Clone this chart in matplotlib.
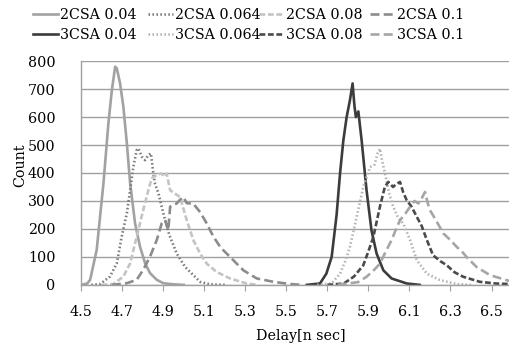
import matplotlib
matplotlib.use('Agg')
import matplotlib.pyplot as plt
from matplotlib.ticker import MultipleLocator

# delay [n sec] / count
x_2csa_004 = [4.50, 4.53, 4.544, 4.576, 4.609, 4.633, 4.65, 4.666, 4.674, 4.69, 4.706, 4.723, 4.739, 4.763, 4.787, 4.812, 4.836, 4.869, 4.901, 4.95, 5.0]
y_2csa_004 = [0, 5, 18, 125, 363, 577, 696, 780, 774, 720, 637, 506, 363, 220, 137, 77, 42, 18, 6, 2, 0]

x_2csa_0064 = [4.55, 4.593, 4.641, 4.674, 4.698, 4.723, 4.739, 4.755, 4.771, 4.779, 4.796, 4.812, 4.828, 4.84, 4.852, 4.86, 4.877, 4.901, 4.925, 4.934, 4.966, 5.007, 5.047, 5.08, 5.128, 5.2]
y_2csa_0064 = [0, 3, 30, 77, 173, 256, 339, 423, 482, 488, 458, 446, 464, 470, 399, 362, 327, 255, 190, 171, 112, 64, 35, 11, 2, 0]

x_2csa_008 = [4.60, 4.658, 4.706, 4.739, 4.771, 4.803, 4.828, 4.844, 4.869, 4.89, 4.909, 4.917, 4.934, 4.982, 5.015, 5.047, 5.08, 5.112, 5.161, 5.226, 5.307, 5.36]
y_2csa_008 = [0, 3, 30, 77, 173, 268, 339, 381, 393, 398, 387, 398, 338, 314, 231, 160, 112, 76, 46, 23, 5, 0]

x_2csa_01 = [4.65, 4.723, 4.771, 4.803, 4.836, 4.869, 4.893, 4.909, 4.925, 4.934, 4.966, 4.982, 4.998, 5.015, 5.047, 5.08, 5.112, 5.144, 5.177, 5.193, 5.242, 5.291, 5.356, 5.437, 5.518, 5.58]
y_2csa_01 = [0, 6, 18, 54, 101, 161, 220, 232, 196, 280, 291, 304, 314, 292, 290, 260, 220, 173, 137, 124, 88, 52, 23, 11, 3, 0]

x_3csa_004 = [5.60, 5.664, 5.695, 5.721, 5.745, 5.762, 5.778, 5.794, 5.81, 5.823, 5.832, 5.839, 5.851, 5.867, 5.891, 5.915, 5.94, 5.973, 6.013, 6.087, 6.15]
y_3csa_004 = [0, 5, 40, 100, 250, 400, 517, 600, 660, 720, 640, 600, 620, 517, 338, 195, 112, 52, 23, 5, 0]

x_3csa_0064 = [5.65, 5.72, 5.762, 5.79, 5.81, 5.843, 5.875, 5.908, 5.93, 5.945, 5.956, 5.965, 5.981, 6.0, 6.021, 6.045, 6.07, 6.103, 6.136, 6.185, 6.249, 6.33, 6.40]
y_3csa_0064 = [0, 5, 40, 90, 136, 243, 350, 421, 430, 470, 487, 450, 398, 330, 279, 240, 219, 160, 88, 40, 17, 3, 0]

x_3csa_008 = [5.70, 5.78, 5.83, 5.875, 5.90, 5.924, 5.956, 5.98, 5.997, 6.02, 6.035, 6.054, 6.07, 6.087, 6.11, 6.136, 6.16, 6.185, 6.215, 6.25, 6.282, 6.32, 6.362, 6.443, 6.52, 6.59]
y_3csa_008 = [0, 5, 30, 70, 120, 171, 279, 350, 368, 350, 360, 368, 330, 302, 280, 243, 210, 160, 106, 85, 70, 45, 29, 11, 5, 3]

x_3csa_01 = [5.75, 5.85, 5.891, 5.93, 5.956, 5.985, 6.013, 6.035, 6.054, 6.08, 6.103, 6.125, 6.144, 6.16, 6.176, 6.19, 6.2, 6.23, 6.265, 6.30, 6.33, 6.355, 6.378, 6.427, 6.492, 6.573, 6.6]
y_3csa_01 = [0, 10, 29, 55, 76, 120, 160, 200, 231, 255, 279, 300, 291, 310, 332, 290, 267, 230, 184, 160, 136, 120, 100, 64, 35, 17, 12]

x_ticks = [4.5, 4.7, 4.9, 5.1, 5.3, 5.5, 5.7, 5.9, 6.1, 6.3, 6.5]

plt.rcParams['font.family'] = ['DejaVu Serif']
plt.rcParams['font.size'] = 10.3

fig = plt.figure(figsize=(5.10, 3.47), dpi=100)
ax = fig.add_axes([0.159, 0.179, 0.841, 0.645])

lw = 1.9
dot = (0, (0.6, 0.9))
dash = (0, (2.2, 1.0))
ldash = (0, (3.4, 1.6))
h1, = ax.plot(x_2csa_004, y_2csa_004, color='#a2a2a2', lw=lw, ls='-', label='2CSA 0.04')
h2, = ax.plot(x_2csa_0064, y_2csa_0064, color='#7c7c7c', lw=lw, ls=dot, label='2CSA 0.064')
h3, = ax.plot(x_2csa_008, y_2csa_008, color='#c4c4c4', lw=lw, ls=dash, label='2CSA 0.08')
h4, = ax.plot(x_2csa_01, y_2csa_01, color='#8c8c8c', lw=lw, ls=ldash, label='2CSA 0.1')
h5, = ax.plot(x_3csa_004, y_3csa_004, color='#3c3c3c', lw=lw, ls='-', label='3CSA 0.04')
h6, = ax.plot(x_3csa_0064, y_3csa_0064, color='#b4b4b4', lw=lw, ls=dot, label='3CSA 0.064')
h7, = ax.plot(x_3csa_008, y_3csa_008, color='#4a4a4a', lw=lw, ls=dash, label='3CSA 0.08')
h8, = ax.plot(x_3csa_01, y_3csa_01, color='#a6a6a6', lw=lw, ls=ldash, label='3CSA 0.1')

ax.set_xlim(4.5, 6.59)
ax.set_ylim(0, 800)
ax.set_xticks(x_ticks)
ax.set_xticklabels([f'{t:.1f}' for t in x_ticks])
ax.yaxis.set_major_locator(MultipleLocator(100))
ax.grid(axis='y', color='#a0a0a0', lw=1.0)
ax.set_axisbelow(True)

for s in ['top', 'right']:
    ax.spines[s].set_visible(False)
for s in ['left', 'bottom']:
    ax.spines[s].set_color('#a0a0a0')
    ax.spines[s].set_linewidth(1.0)
ax.tick_params(axis='x', direction='out', length=4, color='#a0a0a0', pad=10.5)
ax.tick_params(axis='y', length=0, pad=18.5)

ax.set_xlabel('Delay[n sec]')
ax.xaxis.set_label_coords(0.513, -0.195)
ax.set_ylabel('Count')
ax.yaxis.set_label_coords(-0.125, 0.536)

# one small legend per column, like the Excel grid layout
pairs = [(h1, h5), (h2, h6), (h3, h7), (h4, h8)]
col_x = [33, 148, 259, 370]
for (ha, hb), cx in zip(pairs, col_x):
    leg = fig.legend(handles=[ha, hb], loc='upper left',
                     bbox_to_anchor=(cx / 510, 0.976), frameon=False,
                     handlelength=1.75, handletextpad=0.15, labelspacing=0.4,
                     borderpad=0, borderaxespad=0)

fig.savefig('out.png', dpi=100)
